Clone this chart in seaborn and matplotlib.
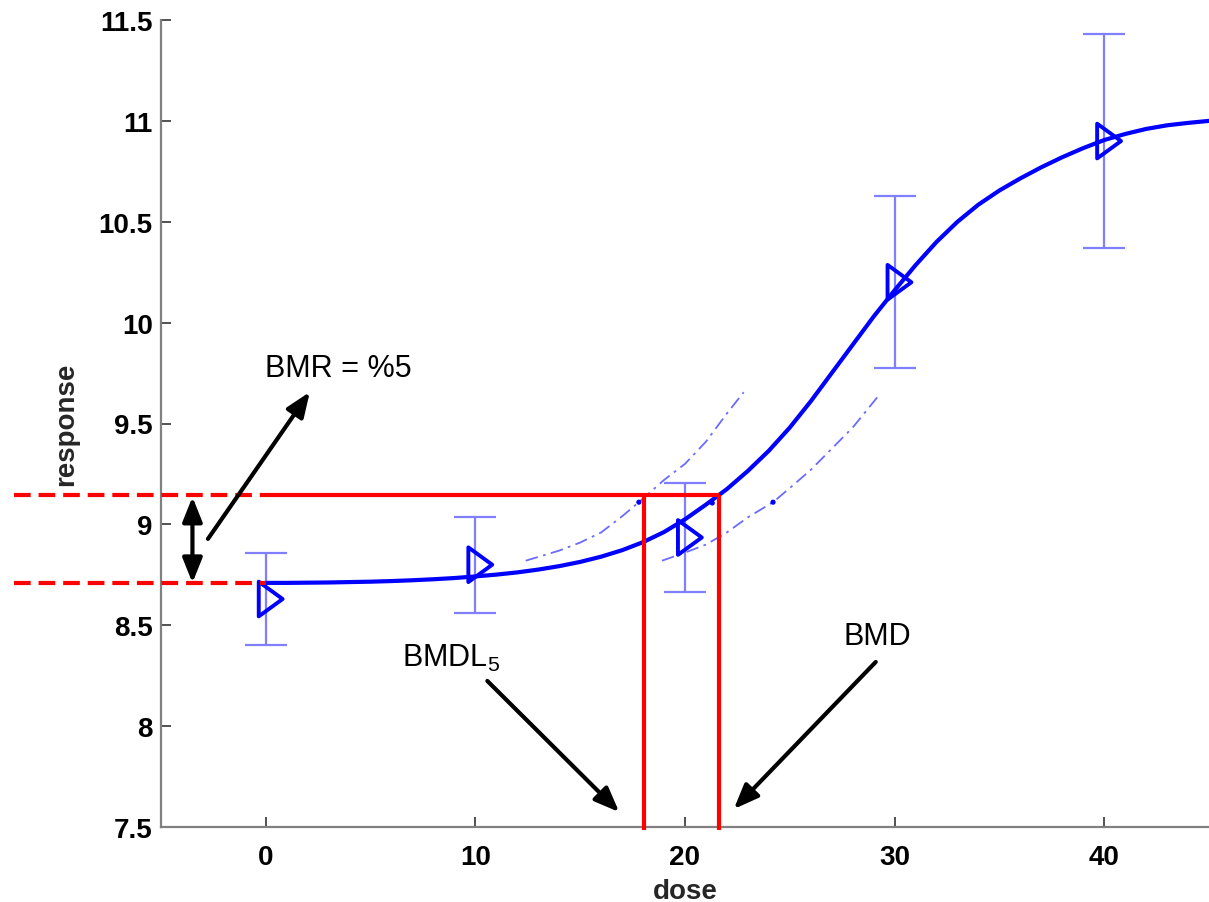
import matplotlib
matplotlib.use("Agg")
import matplotlib.pyplot as plt
from matplotlib import font_manager
from matplotlib.path import Path
from matplotlib.ticker import FormatStrFormatter
import pandas as pd
import seaborn as sns

# Observed group means with their error bars
dose = [0, 10, 20, 30, 40]
resp_mean = [8.63, 8.80, 8.935, 10.20, 10.90]
resp_err = [0.23, 0.238, 0.27, 0.427, 0.53]

# Fitted dose-response curve, one value per dose unit
fit_dose = list(range(0, 46))
fit_resp = [8.710, 8.710, 8.711, 8.712, 8.714, 8.716, 8.719, 8.723, 8.728,
            8.734, 8.742, 8.751, 8.762, 8.776, 8.793, 8.814, 8.840, 8.872,
            8.912, 8.962, 9.025, 9.098, 9.175, 9.265, 9.365, 9.480, 9.610,
            9.750, 9.890, 10.030, 10.160, 10.285, 10.400, 10.500, 10.585,
            10.655, 10.715, 10.770, 10.820, 10.865, 10.905, 10.935, 10.960,
            10.978, 10.990, 11.000]

# Upper and lower confidence bounds of the fit
upper_dose = [12.4, 14, 15, 16, 17, 17.8, 19, 20, 21, 22, 22.8]
upper_resp = [8.82, 8.87, 8.91, 8.96, 9.04, 9.11, 9.22, 9.30, 9.41, 9.55, 9.655]
lower_dose = [18.9, 20, 21, 22, 23, 24.2, 25, 26, 27, 28, 29.3]
lower_resp = [8.82, 8.86, 8.90, 8.96, 9.035, 9.11, 9.18, 9.27, 9.375, 9.48, 9.646]

# Points where the curves reach the benchmark response
dot_dose = [17.8, 21.3, 24.2]
dot_resp = [9.11, 9.106, 9.11]

# Benchmark quantities
background = 8.71
bmr_level = 9.146
bmdl = 18.05
bmd = 21.62

x_ticks = [0, 10, 20, 30, 40]
y_ticks = [7.5, 8, 8.5, 9, 9.5, 10, 10.5, 11, 11.5]

sns.set_theme(style="ticks")
plt.rcParams["font.family"] = ["Liberation Sans", "DejaVu Sans"]
plt.rcParams["mathtext.default"] = "regular"


def font_available(name):
    try:
        font_manager.findfont(font_manager.FontProperties(family=name),
                              fallback_to_default=False)
        return True
    except ValueError:
        return False


if font_available("Liberation Sans Narrow"):
    note_font = dict(family="Liberation Sans Narrow", size=26.5)
else:
    note_font = dict(family="Liberation Sans", size=22)

fig = plt.figure(figsize=(12.09, 9.03), dpi=100)
ax = fig.add_axes([161 / 1209, 75 / 903, 1048 / 1209, 807 / 903])

obs = pd.DataFrame({"dose": dose, "response": resp_mean})
fit = pd.DataFrame({"dose": fit_dose, "response": fit_resp})
upper = pd.DataFrame({"dose": upper_dose, "response": upper_resp})
lower = pd.DataFrame({"dose": lower_dose, "response": lower_resp})

blue = "#0000ff"
light_blue = "#7f7fff"
red = "#ff0000"

# error bars
ax.errorbar(dose, resp_mean, yerr=resp_err, fmt="none", ecolor=light_blue,
            elinewidth=1.6, capsize=15, capthick=1.6, zorder=2)

# confidence bounds
for frame in (upper, lower):
    sns.lineplot(data=frame, x="dose", y="response", ax=ax, color="#6b6bff",
                 linewidth=1.3, linestyle=(0, (7, 3, 1.5, 3)), zorder=2)

# fitted curve
sns.lineplot(data=fit, x="dose", y="response", ax=ax, color=blue,
             linewidth=3.0, zorder=3)

sns.scatterplot(x=dot_dose, y=dot_resp, ax=ax, color=blue, s=14,
                edgecolor="none", zorder=3)

# right-pointing triangle centred on its centroid
tri = Path([(-6.5, 16), (-6.5, -16), (15.5, 0), (-6.5, 16)],
           [Path.MOVETO, Path.LINETO, Path.LINETO, Path.CLOSEPOLY])
sns.scatterplot(data=obs, x="dose", y="response", ax=ax, marker=tri, s=25 ** 2,
                facecolor="none", edgecolor=blue, linewidth=2.8, zorder=5)

# benchmark lines
ax.plot([0, bmd], [bmr_level, bmr_level], color=red, lw=3, zorder=6,
        solid_capstyle="butt")
ax.plot([bmdl, bmdl], [7.485, bmr_level], color=red, lw=3, zorder=6,
        clip_on=False, solid_capstyle="butt")
ax.plot([bmd, bmd], [7.485, bmr_level], color=red, lw=3, zorder=6,
        clip_on=False, solid_capstyle="butt")
for level in (bmr_level, background):
    ax.plot([-12, 0], [level, level], color=red, lw=3, zorder=6,
            clip_on=False, linestyle=(0, (4.0, 1.9)), dash_capstyle="butt")

# arrows and notes
head = "-|>,head_length=0.75,head_width=0.3"
arrow_kw = dict(arrowstyle=head, color="black", lw=3, mutation_scale=20,
                shrinkA=0, shrinkB=0)
ax.annotate("", xy=(-3.5, bmr_level - 0.01), xytext=(-3.5, background),
            arrowprops=dict(arrow_kw, arrowstyle="<|-|>,head_length=0.75,head_width=0.3"),
            annotation_clip=False, zorder=7)
ax.annotate("", xy=(2.1, 9.656), xytext=(-2.76, 8.928),
            arrowprops=arrow_kw, annotation_clip=False, zorder=7)
ax.annotate("", xy=(16.86, 7.574), xytext=(10.57, 8.224),
            arrowprops=arrow_kw, annotation_clip=False, zorder=7)
ax.annotate("", xy=(22.33, 7.589), xytext=(29.1, 8.318),
            arrowprops=arrow_kw, annotation_clip=False, zorder=7)

ax.text(-0.05, 9.737, "BMR = %5", ha="left", va="baseline", color="black",
        **note_font)
ax.text(6.52, 8.30, "BMDL$_5$", ha="left", va="baseline", color="black",
        **note_font)
ax.text(27.57, 8.407, "BMD", ha="left", va="baseline", color="black",
        **note_font)

# axes styling
ax.set_xlim(-5, 45)
ax.set_ylim(7.5, 11.5)
ax.set_xticks(x_ticks)
ax.set_yticks(y_ticks)
ax.yaxis.set_major_formatter(FormatStrFormatter("%g"))
ax.xaxis.set_major_formatter(FormatStrFormatter("%g"))
sns.despine(ax=ax)
for side in ("left", "bottom"):
    ax.spines[side].set_color("#808080")
    ax.spines[side].set_linewidth(1.6)
ax.tick_params(axis="both", direction="in", length=7, width=1.2,
               color="#333333", labelcolor="black", labelsize=20)
ax.tick_params(axis="x", pad=12)
ax.tick_params(axis="y", pad=6)
for lab in ax.get_xticklabels() + ax.get_yticklabels():
    lab.set_fontweight("bold")
ax.set_xlabel("dose", fontsize=20, fontweight="bold", labelpad=6)
ax.set_ylabel("response", fontsize=20, fontweight="bold", labelpad=14)
ax.set_facecolor("white")
fig.patch.set_facecolor("white")

fig.savefig("out.png", dpi=100)
